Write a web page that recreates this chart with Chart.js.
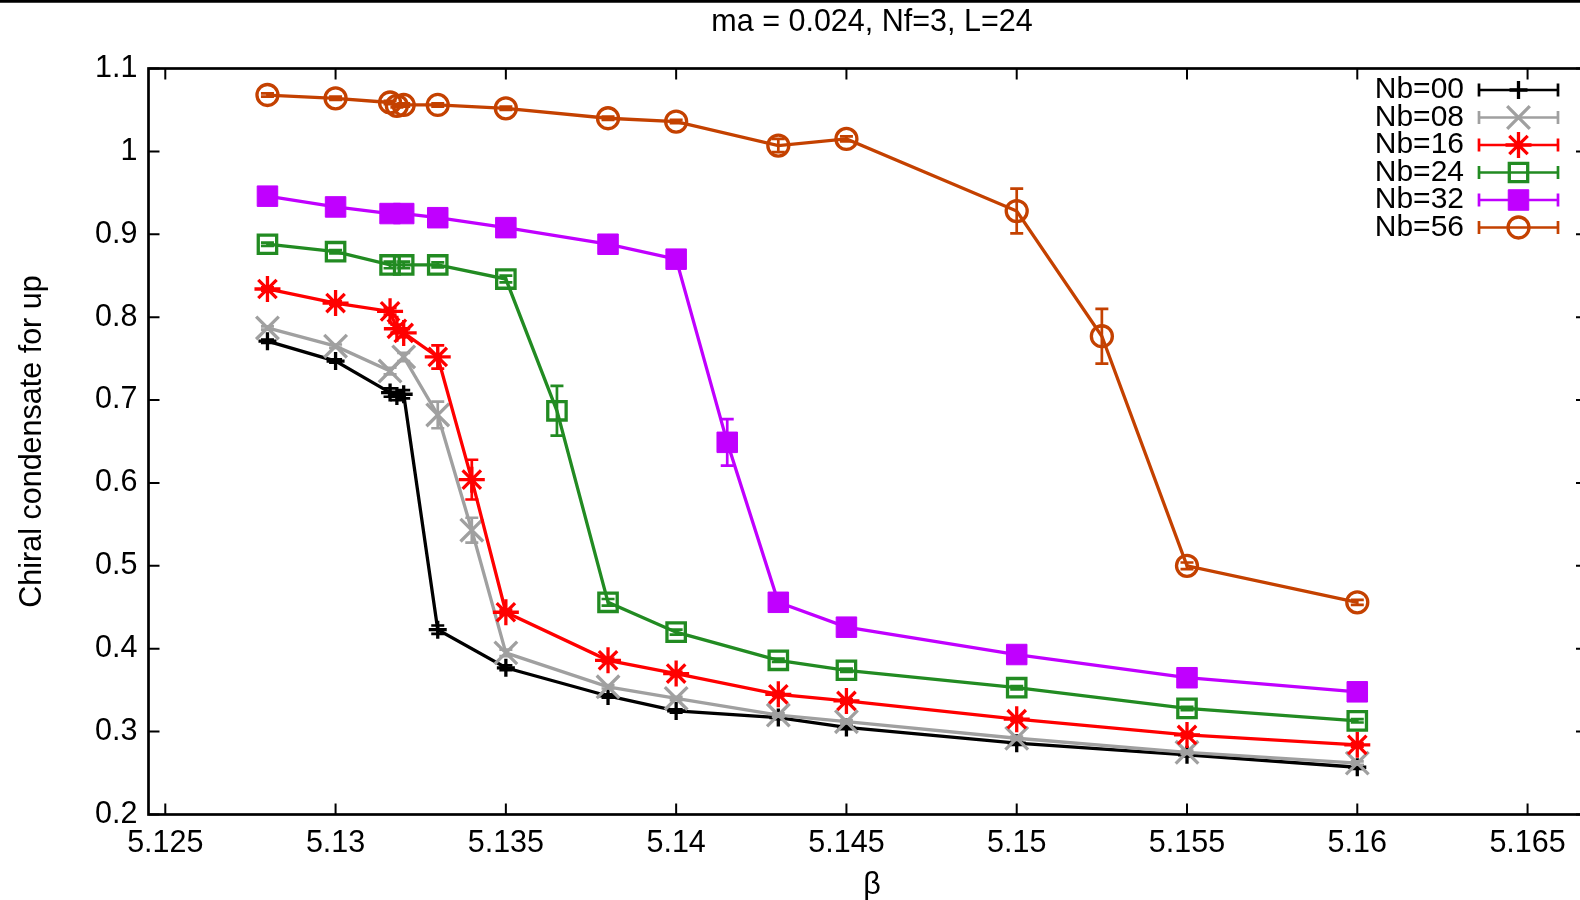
<!DOCTYPE html>
<html>
<head>
<meta charset="utf-8">
<script src="https://cdn.jsdelivr.net/npm/chart.js@4.4.0/dist/chart.umd.min.js"></script>
<style>
  html, body { margin: 0; padding: 0; background: #fff; overflow: hidden; }
  canvas { display: block; }
</style>
</head>
<body>
<canvas id="chart" width="1640" height="900"></canvas>
<script>
const FONT = '"Liberation Sans", Arial, Helvetica, sans-serif';
const FONT_SIZE = 30.5;
const KEY_FONT_SIZE = 30;

const xTicks = [5.125, 5.13, 5.135, 5.14, 5.145, 5.15, 5.155, 5.16, 5.165];
const yTicks = [0.2, 0.3, 0.4, 0.5, 0.6, 0.7, 0.8, 0.9, 1.0, 1.1];
const seriesLabels = ['Nb=00', 'Nb=08', 'Nb=16', 'Nb=24', 'Nb=32', 'Nb=56'];

// beta, condensate and its error for each Nb
const beta00 = [5.128, 5.130, 5.1316, 5.1318, 5.132, 5.133, 5.135, 5.138, 5.140, 5.143, 5.145, 5.150, 5.155, 5.160];
const cond00 = [0.771, 0.747, 0.709, 0.705, 0.707, 0.423, 0.377, 0.343, 0.325, 0.317, 0.305, 0.286, 0.272, 0.257];
const err00  = [0.002, 0.002, 0.005, 0.005, 0.005, 0.005, 0.003, 0.002, 0.002, 0.002, 0.002, 0.002, 0.002, 0.002];

const beta08 = [5.128, 5.130, 5.1316, 5.132, 5.133, 5.134, 5.135, 5.138, 5.140, 5.143, 5.145, 5.150, 5.155, 5.160];
const cond08 = [0.787, 0.765, 0.735, 0.752, 0.682, 0.543, 0.395, 0.354, 0.340, 0.320, 0.312, 0.292, 0.275, 0.262];
const err08  = [0.002, 0.002, 0.004, 0.005, 0.016, 0.015, 0.004, 0.002, 0.002, 0.002, 0.002, 0.002, 0.002, 0.002];

const beta16 = [5.128, 5.130, 5.1316, 5.1318, 5.132, 5.133, 5.134, 5.135, 5.138, 5.140, 5.143, 5.145, 5.150, 5.155, 5.160];
const cond16 = [0.834, 0.817, 0.807, 0.786, 0.781, 0.752, 0.604, 0.444, 0.386, 0.370, 0.345, 0.337, 0.315, 0.296, 0.284];
const err16  = [0.002, 0.002, 0.004, 0.005, 0.005, 0.014, 0.024, 0.003, 0.002, 0.002, 0.002, 0.002, 0.002, 0.002, 0.002];

const beta24 = [5.128, 5.130, 5.1316, 5.132, 5.133, 5.135, 5.1365, 5.138, 5.140, 5.143, 5.145, 5.150, 5.155, 5.160];
const cond24 = [0.888, 0.879, 0.863, 0.863, 0.863, 0.846, 0.687, 0.456, 0.420, 0.386, 0.374, 0.353, 0.328, 0.313];
const err24  = [0.002, 0.002, 0.004, 0.004, 0.003, 0.004, 0.030, 0.004, 0.003, 0.002, 0.002, 0.002, 0.002, 0.002];

const beta32 = [5.128, 5.130, 5.1316, 5.132, 5.133, 5.135, 5.138, 5.140, 5.1415, 5.143, 5.145, 5.150, 5.155, 5.160];
const cond32 = [0.946, 0.933, 0.925, 0.925, 0.920, 0.908, 0.888, 0.870, 0.649, 0.456, 0.426, 0.393, 0.365, 0.348];
const err32  = [0.002, 0.002, 0.003, 0.003, 0.002, 0.002, 0.003, 0.004, 0.028, 0.005, 0.002, 0.002, 0.002, 0.002];

const beta56 = [5.128, 5.130, 5.1316, 5.1318, 5.132, 5.133, 5.135, 5.138, 5.140, 5.143, 5.145, 5.150, 5.1525, 5.155, 5.160];
const cond56 = [1.068, 1.064, 1.059, 1.055, 1.056, 1.056, 1.052, 1.040, 1.036, 1.007, 1.015, 0.928, 0.777, 0.500, 0.456];
const err56  = [0.002, 0.002, 0.002, 0.002, 0.002, 0.002, 0.002, 0.002, 0.002, 0.008, 0.003, 0.027, 0.033, 0.004, 0.003];

const series = [
  { beta: beta00, cond: cond00, err: err00 },
  { beta: beta08, cond: cond08, err: err08 },
  { beta: beta16, cond: cond16, err: err16 },
  { beta: beta24, cond: cond24, err: err24 },
  { beta: beta32, cond: cond32, err: err32 },
  { beta: beta56, cond: cond56, err: err56 },
];

// gnuplot-like point types: + x * open square, filled square, open circle
const NONE = 'rgba(0,0,0,0)';
const styles = [
  { color: '#000000', point: 'cross',    radius: 9,    fill: NONE },
  { color: '#a0a0a0', point: 'crossRot', radius: 16,   fill: NONE },
  { color: '#ff0000', point: 'star',     radius: 13,   fill: NONE },
  { color: '#228b22', point: 'rect',     radius: 13,   fill: NONE },
  { color: '#c000ff', point: 'rect',     radius: 14.5, fill: '#c000ff' },
  { color: '#c44100', point: 'circle',   radius: 10.5, fill: NONE },
];

const LINE_W = 3.3;
const CAP = 6.5;
const TEXT_CENTER_X = 872;

const fmt = v => String(parseFloat(v.toFixed(4)));

// vertical error bars with small caps, drawn under each series' markers
const errorBars = {
  id: 'errorBars',
  beforeDatasetDraw(chart, args) {
    const s = series[args.index];
    const st = styles[args.index];
    const ctx = chart.ctx;
    const xs = chart.scales.x, ys = chart.scales.y;
    ctx.save();
    ctx.strokeStyle = st.color;
    ctx.lineWidth = 2.7;
    s.beta.forEach((b, i) => {
      const px = xs.getPixelForValue(b);
      const top = ys.getPixelForValue(s.cond[i] + s.err[i]);
      const bot = ys.getPixelForValue(s.cond[i] - s.err[i]);
      ctx.beginPath();
      ctx.moveTo(px, top); ctx.lineTo(px, bot);
      ctx.moveTo(px - CAP, top); ctx.lineTo(px + CAP, top);
      ctx.moveTo(px - CAP, bot); ctx.lineTo(px + CAP, bot);
      ctx.stroke();
    });
    ctx.restore();
  }
};

// border with inward ticks, titles and the key
const frame = {
  id: 'frame',
  afterDraw(chart) {
    const ctx = chart.ctx;
    const a = chart.chartArea;
    const xs = chart.scales.x, ys = chart.scales.y;
    const TL = 11;
    ctx.save();

    ctx.strokeStyle = '#000';
    ctx.lineWidth = 2.7;
    ctx.beginPath();
    ctx.moveTo(0, 1.3); ctx.lineTo(chart.width, 1.3);
    ctx.stroke();

    ctx.strokeRect(a.left, a.top, a.right - a.left, a.bottom - a.top);

    ctx.lineWidth = 2;
    ctx.beginPath();
    xTicks.forEach(v => {
      const px = xs.getPixelForValue(v);
      ctx.moveTo(px, a.bottom); ctx.lineTo(px, a.bottom - TL);
      ctx.moveTo(px, a.top); ctx.lineTo(px, a.top + TL);
    });
    yTicks.forEach(v => {
      const py = ys.getPixelForValue(v);
      ctx.moveTo(a.left, py); ctx.lineTo(a.left + TL, py);
      ctx.moveTo(a.right, py); ctx.lineTo(a.right - TL, py);
    });
    ctx.stroke();

    ctx.fillStyle = '#000';
    ctx.font = FONT_SIZE + 'px ' + FONT;
    ctx.textAlign = 'center';
    ctx.textBaseline = 'middle';
    ctx.fillText('ma = 0.024, Nf=3, L=24', TEXT_CENTER_X, 23);
    ctx.fillText('β', TEXT_CENTER_X, 886);

    ctx.save();
    ctx.translate(33, (a.top + a.bottom) / 2);
    ctx.rotate(-Math.PI / 2);
    ctx.fillText('Chiral condensate for up', 0, 0);
    ctx.restore();

    // key
    const keyTextRight = 1464, lineL = 1479, lineR = 1558, keyTop = 90, keyStep = 27.5;
    ctx.font = KEY_FONT_SIZE + 'px ' + FONT;
    seriesLabels.forEach((lab, i) => {
      const st = styles[i];
      const y = keyTop + i * keyStep;
      ctx.fillStyle = '#000';
      ctx.textAlign = 'right';
      ctx.fillText(lab, keyTextRight, y);
      ctx.strokeStyle = st.color;
      ctx.lineWidth = 2.7;
      ctx.beginPath();
      ctx.moveTo(lineL, y); ctx.lineTo(lineR, y);
      ctx.moveTo(lineL, y - CAP); ctx.lineTo(lineL, y + CAP);
      ctx.moveTo(lineR, y - CAP); ctx.lineTo(lineR, y + CAP);
      ctx.stroke();
      ctx.fillStyle = st.fill;
      ctx.lineWidth = st.fill === NONE ? LINE_W : 1;
      Chart.helpers.drawPoint(ctx, {
        pointStyle: st.point, radius: st.radius, rotation: 0, borderWidth: ctx.lineWidth
      }, (lineL + lineR) / 2, y);
    });
    ctx.restore();
  }
};

const datasets = series.map((s, i) => ({
  label: seriesLabels[i],
  data: s.beta.map((b, j) => ({ x: b, y: s.cond[j] })),
  showLine: true,
  borderColor: styles[i].color,
  borderWidth: LINE_W,
  pointStyle: styles[i].point,
  pointRadius: styles[i].radius,
  pointHoverRadius: styles[i].radius,
  pointBorderColor: styles[i].color,
  pointBackgroundColor: styles[i].fill,
  pointBorderWidth: styles[i].fill === NONE ? LINE_W : 1,
  order: series.length - i,
}));

new Chart(document.getElementById('chart').getContext('2d'), {
  type: 'scatter',
  data: { datasets },
  options: {
    responsive: false,
    animation: false,
    devicePixelRatio: 1,
    events: [],
    layout: { padding: { top: 68.5, right: 53, left: 0, bottom: 0 } },
    plugins: { legend: { display: false }, tooltip: { enabled: false }, title: { display: false } },
    scales: {
      x: {
        type: 'linear',
        min: 5.124507,
        max: 5.166745,
        grid: { display: false, drawTicks: false, tickLength: 0 },
        border: { display: false },
        afterBuildTicks: s => { s.ticks = xTicks.map(v => ({ value: v })); },
        afterFit: s => { s.height = 85.5; },
        ticks: {
          autoSkip: false,
          maxRotation: 0,
          padding: 11,
          color: '#000',
          font: { family: FONT, size: FONT_SIZE },
          callback: v => fmt(v),
        },
      },
      y: {
        type: 'linear',
        min: 0.2,
        max: 1.1,
        grid: { display: false, drawTicks: false, tickLength: 0 },
        border: { display: false },
        afterBuildTicks: s => { s.ticks = yTicks.map(v => ({ value: v })); },
        afterFit: s => { s.width = 148.5; },
        ticks: {
          autoSkip: false,
          padding: 11,
          color: '#000',
          font: { family: FONT, size: FONT_SIZE },
          callback: v => fmt(v),
        },
      },
    },
  },
  plugins: [errorBars, frame],
});
</script>
</body>
</html>
